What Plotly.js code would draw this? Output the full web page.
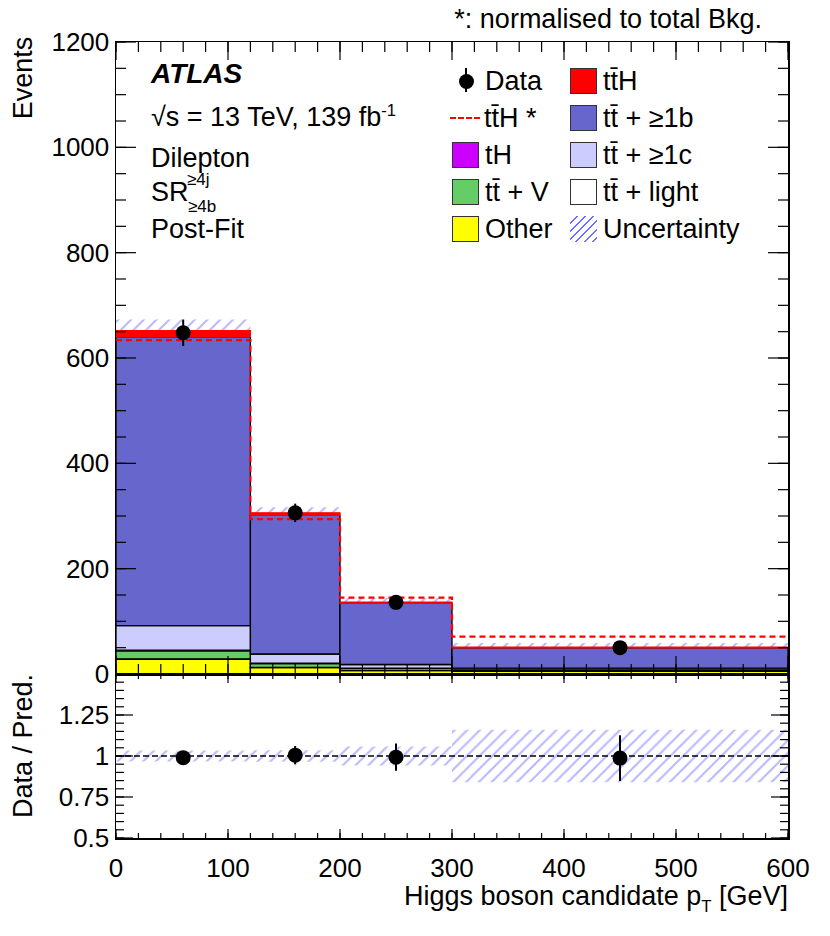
<!DOCTYPE html>
<html>
<head>
<meta charset="utf-8">
<script src="https://cdn.plot.ly/plotly-3.0.1.min.js"></script>
<style>
  html, body { margin: 0; padding: 0; background: #fff; }
  #chart { width: 830px; height: 936px; }
  #overlay { position: absolute; left: 0; top: 0; width: 830px; height: 936px; pointer-events: none; }
  .lbl { position: absolute; white-space: nowrap; line-height: 1; color: #000;
         font-family: 'Liberation Sans', Arial, Helvetica, sans-serif; font-size: 27px; }
  .lbl sup, .lbl sub { font-size: 0.62em; line-height: 0; }
  .sym { position: absolute; box-sizing: border-box; }
</style>
</head>
<body>
<div id="chart"></div>
<div id="overlay"></div>
<script>
// bin edges in GeV
const binEdges = [0, 120, 200, 300, 600];

// post-fit yields per bin
const otherBkg = [28, 12, 6.5, 5];
const tHYield = [0.8, 0.4, 0.3, 0.2];
const ttVYield = [15, 7.2, 4, 2.5];
const ttLightYield = [1.5, 0.8, 0.5, 0.3];
const ttCYield = [46.5, 17.6, 6.7, 3];
const ttBYield = [548, 263, 116, 38.5];
const ttHYield = [12, 5, 2.6, 1.3];
const ttHNormalised = [634, 294, 145, 71];

const dataCounts = [648, 306, 136, 50];
const dataErr = [25, 17.5, 11.7, 7];
const relUnc = [0.033, 0.035, 0.058, 0.16];

const ratioVals = [0.99, 1.005, 0.993, 0.987];
const ratioErr = [0.039, 0.056, 0.083, 0.14];

const centres = binEdges.slice(0, -1).map((e, i) => (e + binEdges[i + 1]) / 2);
const widths = binEdges.slice(0, -1).map((e, i) => binEdges[i + 1] - e);

// plot frame in pixels
const L = 116, R = 788, T = 42, B = 838, SPLIT = 674;
const FONT = 'Liberation Sans, Arial, Helvetica, sans-serif';
const HATCH = '#6f6fff';

const stackDefs = [
  { name: 'Other', vals: otherBkg, color: '#ffff00', line: '#000' },
  { name: 'tH', vals: tHYield, color: '#cc00ff', line: '#000' },
  { name: 'tt̄ + V', vals: ttVYield, color: '#66cc66', line: '#000' },
  { name: 'tt̄ + light', vals: ttLightYield, color: '#ffffff', line: '#000' },
  { name: 'tt̄ + ≥1c', vals: ttCYield, color: '#ccccff', line: '#000' },
  { name: 'tt̄ + ≥1b', vals: ttBYield, color: '#6666cc', line: '#000' },
  { name: 'tt̄H', vals: ttHYield, color: '#ff0000', line: '#ff0000' },
];
const total = binEdges.slice(0, -1).map((_, i) => stackDefs.reduce((s, d) => s + d.vals[i], 0));

const hatchMarker = () => ({ color: 'rgba(0,0,0,0)', line: { width: 0 },
  pattern: { shape: '/', fgcolor: HATCH, bgcolor: 'rgba(0,0,0,0)', size: 9, solidity: 0.22, fillmode: 'overlay' } });

const traces = [];
// uncertainty band, under the stack
traces.push({
  type: 'bar', x: centres, width: widths,
  base: total.map((t, i) => t * (1 - relUnc[i])),
  y: total.map((t, i) => 2 * t * relUnc[i]),
  marker: hatchMarker(), xaxis: 'x', yaxis: 'y', hoverinfo: 'skip', showlegend: false,
});
let running = [0, 0, 0, 0];
stackDefs.forEach(d => {
  traces.push({
    type: 'bar', x: centres, width: widths, base: running.slice(), y: d.vals,
    marker: { color: d.color, line: { color: d.line, width: 1.3 } },
    name: d.name, xaxis: 'x', yaxis: 'y', showlegend: false,
  });
  running = running.map((r, i) => r + d.vals[i]);
});
// ttH normalised to total background
traces.push({
  type: 'scatter', mode: 'lines', x: binEdges,
  y: ttHNormalised.concat([ttHNormalised[ttHNormalised.length - 1]]),
  line: { shape: 'hv', color: '#ff0000', width: 2.2, dash: '6px,4px' },
  xaxis: 'x', yaxis: 'y', showlegend: false,
});
traces.push({
  type: 'scatter', mode: 'markers', x: centres, y: dataCounts,
  marker: { color: '#000', size: 15 },
  error_y: { type: 'data', array: dataErr, color: '#000', thickness: 2, width: 0 },
  xaxis: 'x', yaxis: 'y', showlegend: false,
});
// ratio panel
traces.push({
  type: 'bar', x: centres, width: widths,
  base: relUnc.map(u => 1 - u), y: relUnc.map(u => 2 * u),
  marker: hatchMarker(), xaxis: 'x2', yaxis: 'y2', hoverinfo: 'skip', showlegend: false,
});
traces.push({
  type: 'scatter', mode: 'markers', x: centres, y: ratioVals,
  marker: { color: '#000', size: 15 },
  error_y: { type: 'data', array: ratioErr, color: '#000', thickness: 2, width: 0 },
  xaxis: 'x2', yaxis: 'y2', showlegend: false,
});

const split = (B - SPLIT) / (B - T);
const tickFont = { family: FONT, size: 26, color: '#000' };
const frame = { showline: true, linecolor: '#000', linewidth: 1.5, mirror: true, ticks: '',
  showgrid: false, zeroline: false, tickfont: tickFont };
const layout = {
  width: 830, height: 936,
  margin: { l: L, r: 830 - R, t: T, b: 936 - B },
  paper_bgcolor: '#fff', plot_bgcolor: '#fff',
  font: { family: FONT, size: 23, color: '#000' },
  barmode: 'overlay', showlegend: false,
  xaxis: Object.assign({}, frame, { domain: [0, 1], anchor: 'y', range: [0, 600], dtick: 100, tick0: 0, showticklabels: false }),
  yaxis: Object.assign({}, frame, { domain: [split, 1], anchor: 'x', range: [0, 1200], dtick: 200, tick0: 0 }),
  xaxis2: Object.assign({}, frame, { domain: [0, 1], anchor: 'y2', range: [0, 600], dtick: 100, tick0: 0, ticklabelstandoff: 6 }),
  yaxis2: Object.assign({}, frame, { domain: [0, split], anchor: 'x2', range: [0.5, 1.4999], dtick: 0.25, tick0: 0.5, tickformat: '~g' }),
  shapes: [],
};

// ratio reference line
layout.shapes.push({ type: 'line', xref: 'x2', yref: 'y2', x0: 0, x1: 600, y0: 1, y1: 1,
  line: { color: '#000', width: 1.5, dash: '6px,3px' } });

// ROOT-style inside ticks on all four sides, as shapes in axis units
const tickLine = (xref, yref, x0, y0, x1, y1) => layout.shapes.push({ type: 'line', xref, yref, x0, y0, x1, y1,
  layer: 'above', line: { color: '#000', width: 1.2 } });
function vTicks(xref, yref, from, to, step, yLo, yHi, len) {
  for (let k = 0; from + k * step <= to + 1e-9; k++) {
    const v = from + k * step;
    tickLine(xref, yref, v, yLo, v, yLo + len);
    tickLine(xref, yref, v, yHi, v, yHi - len);
  }
}
function hTicks(xref, yref, from, to, step, xLo, xHi, len) {
  for (let k = 0; from + k * step <= to + 1e-9; k++) {
    const v = from + k * step;
    tickLine(xref, yref, xLo, v, xLo + len, v);
    tickLine(xref, yref, xHi, v, xHi - len, v);
  }
}
// pixel -> axis unit factors
const mainYPerPx = 1200 / (SPLIT - T), xPerPx = 600 / (R - L), ratioYPerPx = 1 / (B - SPLIT);
vTicks('x', 'y', 0, 600, 100, 0, 1200, 18 * mainYPerPx);
vTicks('x', 'y', 0, 600, 20, 0, 1200, 10 * mainYPerPx);
hTicks('x', 'y', 0, 1200, 200, 0, 600, 20 * xPerPx);
hTicks('x', 'y', 0, 1200, 50, 0, 600, 10 * xPerPx);
vTicks('x2', 'y2', 0, 600, 100, 0.5, 1.4999, 9 * ratioYPerPx);
vTicks('x2', 'y2', 0, 600, 20, 0.5, 1.4999, 5 * ratioYPerPx);
hTicks('x2', 'y2', 0.5, 1.49, 0.25, 0, 600, 17 * xPerPx);
hTicks('x2', 'y2', 0.5, 1.49, 0.05, 0, 600, 8 * xPerPx);

// text labels and legend as an overlay in page pixels
const overlay = document.getElementById('overlay');

function label(html, x, y, opts = {}) {
  const el = document.createElement('div');
  el.className = 'lbl';
  el.innerHTML = html;
  el.style.left = x + 'px';
  el.style.top = y + 'px';
  let tf = opts.anchor === 'right' ? 'translate(-100%,-50%)' : opts.anchor === 'center' ? 'translate(-50%,-50%)' : 'translate(0,-50%)';
  if (opts.rotate) tf += ' rotate(-90deg)';
  el.style.transform = tf;
  if (opts.size) el.style.fontSize = opts.size + 'px';
  overlay.appendChild(el);
}

function sym(x, y, w, h, css) {
  const el = document.createElement('div');
  el.className = 'sym';
  Object.assign(el.style, { left: x + 'px', top: y + 'px', width: w + 'px', height: h + 'px' }, css);
  overlay.appendChild(el);
}

function drawOverlay() {
  label('Events', 23, 78, { anchor: 'center', rotate: true });
  label('Data / Pred.', 23, 746, { anchor: 'center', rotate: true });
  label('Higgs boson candidate p<sub style="vertical-align:-0.45em">T</sub> [GeV]', 788, 896, { anchor: 'right' });
  label('*: normalised to total Bkg.', 762, 19, { anchor: 'right' });

  label('<b><i>ATLAS</i></b>', 151, 74, { size: 28 });
  label('√s = 13 TeV, 139 fb<sup style="vertical-align:0.55em">-1</sup>', 151, 117);
  label('Dilepton', 151, 158);
  label('SR', 151, 192);
  label('≥4j', 187, 179, { size: 17 });
  label('≥4b', 188, 206, { size: 17 });
  label('Post-Fit', 151, 229);

  const rows = [81, 118, 155, 192, 229];
  const c1 = 452, c2 = 570, bw = 27, bh = 26;
  const box = (x, yc, fill) => sym(x, yc - bh / 2, bw, bh, { background: fill, border: '1px solid #333' });

  sym(465, 68, 2, 24, { background: '#000' });
  sym(458.5, rows[0] - 7, 15, 15, { background: '#000', borderRadius: '50%' });
  label('Data', 485, rows[0]);

  sym(450, rows[1] - 1, 30, 0, { borderTop: '2px dashed #ff0000' });
  label('tt̄H *', 484, rows[1]);

  box(c1, rows[2], '#cc00ff'); label('tH', 485, rows[2]);
  box(c1, rows[3], '#66cc66'); label('tt̄ + V', 485, rows[3]);
  box(c1, rows[4], '#ffff00'); label('Other', 485, rows[4]);

  box(c2, rows[0], '#ff0000'); label('tt̄H', 603, rows[0]);
  box(c2, rows[1], '#6666cc'); label('tt̄ + ≥1b', 603, rows[1]);
  box(c2, rows[2], '#ccccff'); label('tt̄ + ≥1c', 603, rows[2]);
  box(c2, rows[3], '#ffffff'); label('tt̄ + light', 603, rows[3]);
  sym(c2, rows[4] - bh / 2, bw, bh, {
    background: 'repeating-linear-gradient(135deg, rgba(0,0,0,0) 0px, rgba(0,0,0,0) 4.5px, ' + HATCH + ' 4.5px, ' + HATCH + ' 5.8px)' });
  label('Uncertainty', 603, rows[4]);
}

Plotly.newPlot('chart', traces, layout, { staticPlot: true, displayModeBar: false }).then(drawOverlay);
</script>
</body>
</html>
